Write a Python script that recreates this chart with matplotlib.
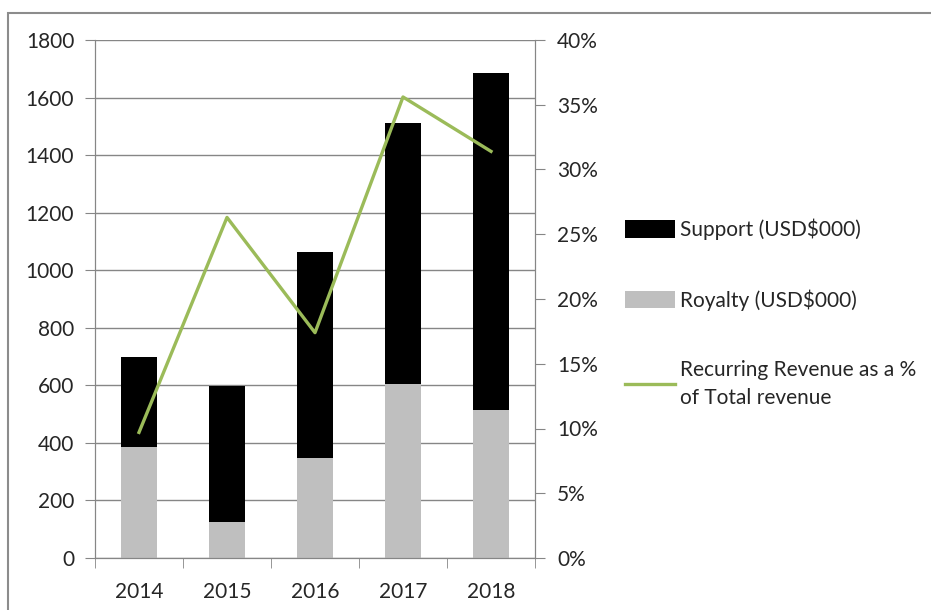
import matplotlib.pyplot as plt
from matplotlib.patches import Rectangle
from matplotlib.ticker import FuncFormatter
import numpy as np

years = ['2014', '2015', '2016', '2017', '2018']
royalty = [386, 125, 347, 605, 514]
support = [312, 472, 716, 906, 1171]
recurring_pct = [9.7, 26.3, 17.4, 35.6, 31.4]

grid_col = '#868686'
text_col = '#262626'


def main():
    plt.rcParams['font.family'] = ['Lato', 'DejaVu Sans']
    fig = plt.figure(figsize=(9.31, 6.10), dpi=100)
    ax = fig.add_axes([95 / 931, 1 - 558 / 610, 440 / 931, 518 / 610])
    ax2 = ax.twinx()

    x = np.arange(len(years))
    b2 = ax.bar(x, royalty, width=0.41, color='#BFBFBF', zorder=2,
                label='Royalty (USD$000)')
    b1 = ax.bar(x, support, width=0.41, bottom=royalty, color='black', zorder=2,
                label='Support (USD$000)')
    ln, = ax2.plot(x, recurring_pct, color='#9BBB59', lw=2.4,
                   label='Recurring Revenue as a %\nof Total revenue')

    ax.set_xlim(-0.5, len(years) - 0.5)
    ax.set_ylim(0, 1800)
    ax.set_yticks(range(0, 1801, 200))
    ax.yaxis.grid(True, color=grid_col, lw=1)
    ax.set_axisbelow(True)
    ax.set_xticks(x)
    ax.set_xticklabels(years)
    ax.set_xticks(np.arange(-0.5, len(years)), minor=True)
    ax.tick_params(axis='x', which='major', length=0, pad=17, labelsize=15,
                   labelcolor=text_col)
    ax.tick_params(axis='x', which='minor', length=7, color=grid_col)
    ax.tick_params(axis='y', length=7, color=grid_col, labelsize=15,
                   labelcolor=text_col, pad=8)

    ax2.set_ylim(0, 40)
    ax2.set_yticks(range(0, 41, 5))
    ax2.yaxis.set_major_formatter(FuncFormatter(lambda v, p: f'{v:.0f}%'))
    ax2.tick_params(axis='y', length=7, color=grid_col, labelsize=15,
                    labelcolor=text_col, pad=9)

    for a in (ax, ax2):
        for s in a.spines.values():
            s.set_color(grid_col)
        a.spines['top'].set_visible(False)

    leg = fig.legend([b1, b2, ln], [b1.get_label(), b2.get_label(), ln.get_label()],
                     loc='upper left', bbox_to_anchor=(606 / 931, 1 - 200 / 610),
                     frameon=False, fontsize=15, labelcolor=text_col,
                     handlelength=2.4, handleheight=0.9, handletextpad=0.25,
                     labelspacing=2.35)
    for t in leg.get_texts():
        t.set_linespacing(1.55)

    fig.patches.append(Rectangle((8 / 931, -0.1), 1.2, 1.1 - 13 / 610,
                                 transform=fig.transFigure, fill=False,
                                 edgecolor='#8c8c8c', lw=1.5))

    plt.savefig('out.png', dpi=100)


if __name__ == '__main__':
    main()
